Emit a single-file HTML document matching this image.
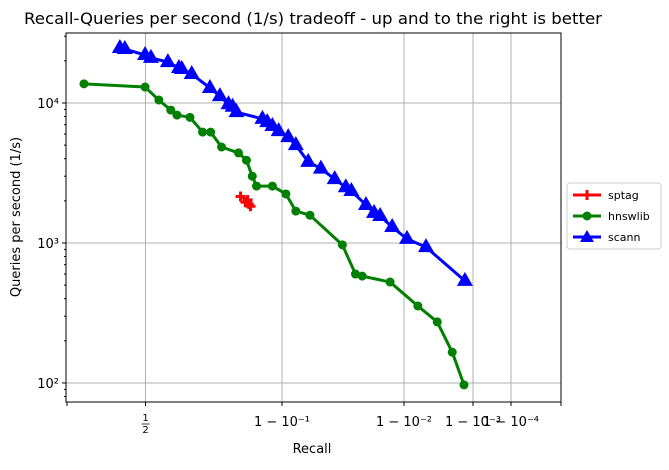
<!DOCTYPE html>
<html><head><meta charset="utf-8"><style>
body{margin:0;background:#fff}
svg text{font-family:"DejaVu Sans","Liberation Sans",sans-serif}
</style></head><body>
<svg id="chart" width="669" height="465" xmlns="http://www.w3.org/2000/svg">
<rect width="669" height="465" fill="#fff"/>
<text x="313" y="24" font-size="16" text-anchor="middle" textLength="578" lengthAdjust="spacingAndGlyphs">Recall-Queries per second (1/s) tradeoff - up and to the right is better</text>
<g id="grid"></g>
<g id="axes"></g>
<g id="series"></g>
<text x="312" y="453" font-size="13" text-anchor="middle">Recall</text>
<text transform="translate(20,217) rotate(-90)" font-size="13" text-anchor="middle">Queries per second (1/s)</text>
<g>
<rect x="567" y="183" width="94" height="66" rx="3" fill="#fff" stroke="#ccc"/>
<line x1="573" y1="195" x2="601" y2="195" stroke="red" stroke-width="3"/>
<path d="M587 190v10M582 195h10" stroke="red" stroke-width="3"/>
<text x="608" y="199" font-size="11">sptag</text>
<line x1="573" y1="216" x2="601" y2="216" stroke="green" stroke-width="3"/>
<circle cx="587" cy="216" r="4.5" fill="green"/>
<text x="608" y="220" font-size="11">hnswlib</text>
<line x1="573" y1="237" x2="601" y2="237" stroke="blue" stroke-width="3"/>
<path d="M587 230l7 12h-14z" fill="blue"/>
<text x="608" y="241" font-size="11">scann</text>
</g>
</svg>
<script>
const sptagRecall=[0.837,0.850,0.846,0.855,0.852];
const sptagQps=[2150,2030,1960,1830,1900];
const hnswRecall=[0.139,0.498,0.573,0.629,0.655,0.704,0.745,0.768,0.796,0.833,0.848,0.858,0.865,0.888,0.907,0.923,0.941,0.968,0.975,0.978,0.987,0.9937,0.9967,0.9980,0.99865];
const hnswQps=[13700,13000,10500,8900,8200,7900,6200,6200,4850,4400,3900,3000,2550,2550,2240,1690,1580,970,600,580,526,355,273,166,97];
const scannRecall=[0.373,0.400,0.498,0.531,0.616,0.663,0.674,0.710,0.766,0.792,0.812,0.821,0.829,0.874,0.881,0.888,0.896,0.911,0.923,0.939,0.952,0.963,0.970,0.973,0.9795,0.9824,0.9843,0.9875,0.99095,0.9952,0.99869];
const scannQps=[24700,24300,22000,21000,19600,17800,17500,16100,12800,11200,9800,9400,8600,7700,7300,6850,6300,5700,5000,3800,3400,2860,2500,2350,1870,1640,1560,1300,1070,935,536];
const xTickLabels=["1/2","1 − 10⁻¹","1 − 10⁻²","1 − 10⁻³","1 − 10⁻⁴"];
const xTickRecall=[0.5,0.9,0.99,0.999,0.9999];
const yTickLabels=["10²","10³","10⁴"];
const yTickValues=[100,1000,10000];

const L=66,R=561,T=33,B=402;
const tA=[0,0.30103,1,2,3,4,5],pA=[67,145.5,282,404,473,511,540];
function xs(r){const t=-Math.log10(Math.max(1e-9,1-r));for(let i=0;i<tA.length-1;i++){if(t<=tA[i+1]||i==tA.length-2){return pA[i]+(t-tA[i])/(tA[i+1]-tA[i])*(pA[i+1]-pA[i]);}}}
function ys(v){return 103-(Math.log10(v)-4)*140;}
const NS="http://www.w3.org/2000/svg";
function mk(tag,attrs,parent){const e=document.createElementNS(NS,tag);for(const k in attrs)e.setAttribute(k,attrs[k]);parent.appendChild(e);return e;}
const grid=document.getElementById('grid'),axes=document.getElementById('axes'),ser=document.getElementById('series');
xTickRecall.forEach((r,i)=>{const x=xs(r);
 const g=mk('line',{x1:x,x2:x,y1:T,y2:B,stroke:'#b0b0b0','stroke-width':1},grid);
 
 
 mk('line',{x1:x,x2:x,y1:B,y2:B+4,stroke:'#000'},axes);
 if(i==0){
  const parts=xTickLabels[i].split('/');
  const a=mk('text',{x:x,y:421,'font-size':10,'text-anchor':'middle'},axes);
  a.textContent=parts[0];
  
  
  mk('line',{x1:x-4,x2:x+4,y1:424,y2:424,stroke:'#000','stroke-width':0.8},axes);
  const b=mk('text',{x:x,y:433,'font-size':10,'text-anchor':'middle'},axes);
  b.textContent=parts[1];
  
  
 } else {
  const tx=mk('text',{x:x,y:426,'font-size':13,'text-anchor':'middle'},axes);
  tx.textContent=xTickLabels[i];
  
  
 }
});
mk('line',{x1:67,x2:67,y1:B,y2:B+4,stroke:'#000'},axes);
mk('line',{x1:R,x2:R,y1:B,y2:B+4,stroke:'#000'},axes);
yTickValues.forEach((v,i)=>{const y=ys(v);
 const g=mk('line',{x1:L,x2:R,y1:y,y2:y,stroke:'#b0b0b0','stroke-width':1},grid);
 
 
 mk('line',{x1:L-4,x2:L,y1:y,y2:y,stroke:'#000'},axes);
 const tx=mk('text',{x:L-7,y:y+5,'font-size':13,'text-anchor':'end'},axes);
 tx.textContent=yTickLabels[i];
 
 
});
for(let d=1;d<=4;d++)for(let m=2;m<=9;m++){const v=m*Math.pow(10,d);const y=ys(v);if(y>T&&y<B)mk('line',{x1:L-2,x2:L,y1:y,y2:y,stroke:'#000'},axes);}
const fr=mk('rect',{x:L,y:T,width:R-L,height:B-T,fill:'none',stroke:'#000','stroke-width':1},axes);


function series(rec,q,color,name,marker){
 const pts=rec.map((r,i)=>[xs(r),ys(q[i])]);
 const pl=mk('polyline',{points:pts.map(p=>p.join(',')).join(' '),fill:'none',stroke:color,'stroke-width':3,'stroke-linejoin':'round'},ser);
 
 
 pts.forEach(p=>{let e;
  if(marker=='o')e=mk('circle',{cx:p[0],cy:p[1],r:4.5,fill:color},ser);
  else if(marker=='^')e=mk('path',{d:`M${p[0]} ${p[1]-9}l8 14h-16z`,fill:color},ser);
  else e=mk('path',{d:`M${p[0]} ${p[1]-5}v10M${p[0]-5} ${p[1]}h10`,stroke:color,'stroke-width':3},ser);
  
  
 });
}
series(hnswRecall,hnswQps,'green','hnswlib','o');
series(scannRecall,scannQps,'blue','scann','^');
series(sptagRecall,sptagQps,'red','sptag','+');
</script>
</body></html>
